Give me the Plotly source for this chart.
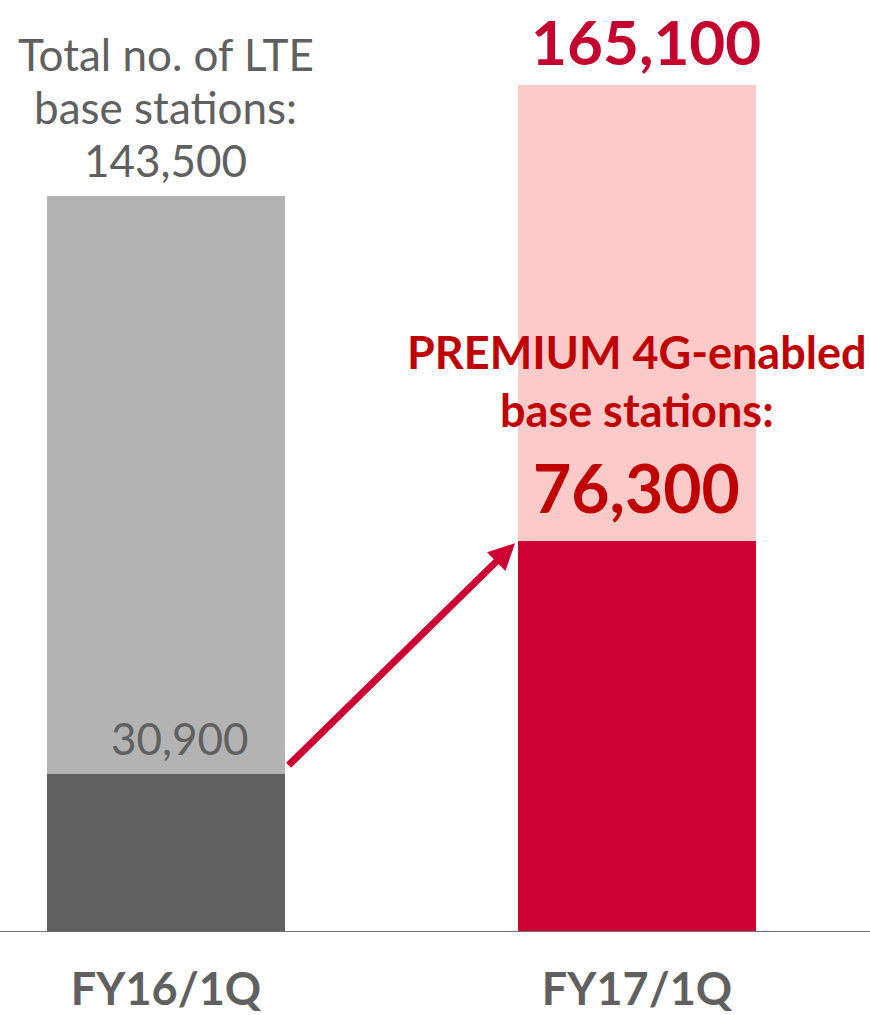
import plotly.graph_objects as go

# Quarter labels and base-station counts
quarters = ["FY16/1Q", "FY17/1Q"]
total_lte = [143500, 165100]
premium_4g = [30900, 76300]

premium_colors = ["#606060", "#cc0033"]
rest_colors = ["#b3b3b3", "#fdcaca"]

FONT = "Lato"
GRAY_TXT = "#606060"
RED_TXT = "#c00000"

xpos = [0, 1]
rest = [t - p for t, p in zip(total_lte, premium_4g)]

fig = go.Figure()
fig.add_trace(go.Bar(x=xpos, y=premium_4g, marker=dict(color=premium_colors, line=dict(width=0)),
                     width=0.505, hoverinfo="skip"))
fig.add_trace(go.Bar(x=xpos, y=rest, marker=dict(color=rest_colors, line=dict(width=0)),
                     width=0.505, hoverinfo="skip"))

# Total for FY16/1Q, one annotation per line for tight spacing
title_lines = ["Total no. of LTE", "base stations:", f"{total_lte[0]:,}"]
for i, line in enumerate(title_lines):
    fig.add_annotation(x=xpos[0], y=total_lte[0], xref="x", yref="y", yanchor="middle",
                       yshift=36 + 53 * (len(title_lines) - 1 - i), showarrow=False,
                       text=line, font=dict(family=FONT, size=44, color=GRAY_TXT))

# Premium count FY16/1Q
fig.add_annotation(x=xpos[0] + 0.18, y=premium_4g[0], xref="x", yref="y", yanchor="bottom",
                   xanchor="right", yshift=8, showarrow=False,
                   text=f"{premium_4g[0]:,}",
                   font=dict(family=FONT, size=44, color=GRAY_TXT))
# Total for FY17/1Q
fig.add_annotation(x=xpos[1] + 0.02, y=total_lte[1], xref="x", yref="y", yanchor="bottom",
                   yshift=5, showarrow=False,
                   text=f"<b>{total_lte[1]:,}</b>",
                   font=dict(family=FONT, size=62, color="#c4002f"))
# Premium label FY17/1Q
fig.add_annotation(x=xpos[1], y=premium_4g[1], xref="x", yref="y", yanchor="middle",
                   yshift=189, showarrow=False,
                   text="<b>PREMIUM 4G-enabled</b>",
                   font=dict(family=FONT, size=45, color=RED_TXT))
fig.add_annotation(x=xpos[1], y=premium_4g[1], xref="x", yref="y", yanchor="middle",
                   yshift=131, showarrow=False,
                   text="<b>base stations:</b>",
                   font=dict(family=FONT, size=45, color=RED_TXT))
fig.add_annotation(x=xpos[1], y=premium_4g[1], xref="x", yref="y", yanchor="bottom",
                   yshift=12, showarrow=False,
                   text=f"<b>{premium_4g[1]:,}</b>",
                   font=dict(family=FONT, size=66, color=RED_TXT))

# Growth arrow between the premium segments
fig.add_annotation(x=0.741, y=75800, ax=0.257, ay=32200, xref="x", yref="y",
                   axref="x", ayref="y", text="", showarrow=True,
                   arrowhead=2, arrowsize=0.75, arrowwidth=7, arrowcolor="#cc0033")

# Baseline
fig.add_shape(type="line", xref="paper", yref="y", x0=0, x1=1, y0=0, y1=0,
              line=dict(color="#707070", width=2), layer="above")

fig.update_layout(
    width=870, height=1015,
    margin=dict(l=0, r=0, t=0, b=83, autoexpand=False),
    paper_bgcolor="white", plot_bgcolor="white",
    barmode="stack", showlegend=False,
    xaxis=dict(range=[-0.3524, 1.4947], tickvals=xpos, ticktext=quarters,
               showgrid=False, zeroline=False, showline=False, ticks="",
               automargin=False, ticklabelstandoff=27,
               tickfont=dict(family=FONT, size=45, color=GRAY_TXT, weight="bold")),
    yaxis=dict(range=[0, 181700], visible=False, automargin=False),
)

fig.write_html("out.html")
